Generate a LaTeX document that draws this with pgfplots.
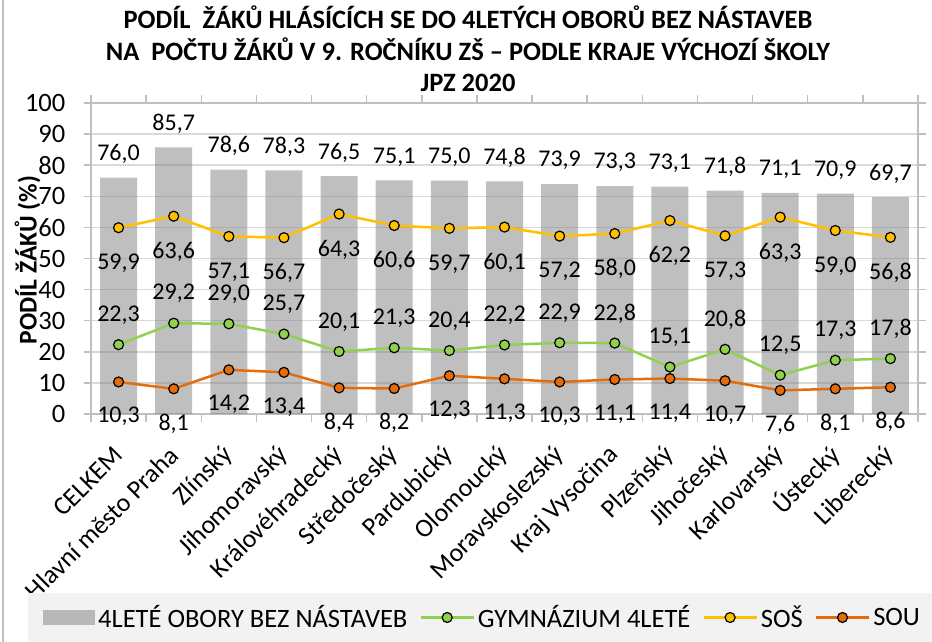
\documentclass[border=0pt]{standalone}
\usepackage{pgfplots}
\pgfplotsset{compat=1.18}
\usepackage{fontspec}
\setmainfont{Carlito}
\definecolor{gymc}{HTML}{92D050}
\definecolor{sosc}{HTML}{FFC000}
\definecolor{souc}{HTML}{E46C0A}
\definecolor{gridc}{HTML}{D9D9D9}
\definecolor{axc}{HTML}{BFBFBF}
\definecolor{legbg}{HTML}{F2F2F2}
\newcommand{\lab}{\pgfmathprintnumber[fixed,fixed zerofill,precision=1,use comma,assume math mode=true]{\pgfplotspointmeta}}
\begin{document}
\begin{tikzpicture}
\path[use as bounding box] (-91pt,-228pt) rectangle (841pt,414pt);
\begin{axis}[
  scale only axis, width=827pt, height=311pt,
  xmin=-0.5, xmax=14.5, ymin=0, ymax=100,
  clip=false,
  xtick={-0.5,0.5,...,14.5}, xticklabels={},
  extra x ticks={0,1,...,14},
  extra x tick labels={CELKEM,Hlavní město Praha,Zlínský,Jihomoravský,Královéhradecký,Středočeský,Pardubický,Olomoucký,Moravskoslezský,Kraj Vysočina,Plzeňský,Jihočeský,Karlovarský,Ústecký,Liberecký},
  extra x tick style={major tick length=0pt},
  ytick={0,10,...,100},
  tick align=outside,
  major tick length=7.5pt,
  tick style={axc, line width=1.5pt},
  axis line style={axc, line width=1.5pt},
  ymajorgrids, grid style={gridc, line width=1.5pt},
  /pgf/number format/assume math mode=true,
  yticklabel style={font=\fontsize{26.5}{30}\selectfont, inner sep=0pt, anchor=east, xshift=-18pt},
  xticklabel style={font=\fontsize{26}{30}\selectfont, inner sep=0pt, anchor=east, yshift=-37pt, rotate=45},
  title={PODÍL\ \ ŽÁKŮ HLÁSÍCÍCH SE DO 4LETÝCH OBORŮ BEZ NÁSTAVEB\\NA\ \ POČTU ŽÁKŮ V 9. ROČNÍKU ZŠ – PODLE KRAJE VÝCHOZÍ ŠKOLY\\JPZ 2020},
  title style={at={(axis description cs:0.4559,1.1543)}, anchor=center, align=center, font=\bfseries\fontsize{26.5}{31.5}\selectfont},
  ylabel={PODÍL ŽÁKŮ (\%)},
  ylabel style={at={(axis description cs:-0.0768,0.4952)}, anchor=center, font=\bfseries\fontsize{25.5}{30}\selectfont},
  legend columns=-1,
  legend cell align=left,
  legend style={at={(axis description cs:-0.07618,-0.65434)}, anchor=west, fill=legbg, draw=none,
    inner xsep=15pt, inner ysep=0pt, minimum height=49pt,
    font=\fontsize{26.5}{30}\selectfont,
    nodes={inner sep=0pt},
    /tikz/every odd column/.append style={column sep=3pt},
    /tikz/every even column/.append style={column sep=12pt}},
]
\addplot[ybar, bar width=37pt, fill=black!50, fill opacity=0.5, draw=none,
  nodes near coords=\lab,
  every node near coord/.append style={text opacity=1, fill opacity=1, font=\fontsize{24}{28}\selectfont, anchor=center, yshift=25pt, text depth=0pt},
  legend image code/.code={\fill[black!50, fill opacity=0.5] (0pt,-7.5pt) rectangle (52pt,7.5pt);}]
coordinates {(0,76.0) (1,85.7) (2,78.6) (3,78.3) (4,76.5) (5,75.1) (6,75.0) (7,74.8) (8,73.9) (9,73.3) (10,73.1) (11,71.8) (12,71.1) (13,70.9) (14,69.7)};
\addlegendentry{4LETÉ OBORY BEZ NÁSTAVEB}
\addplot[gymc, line width=2.5pt, mark=*, mark size=5pt, mark options={fill=gymc, draw=black, line width=1.2pt},
  nodes near coords=\lab,
  every node near coord/.append style={black, font=\fontsize{24}{28}\selectfont, anchor=center, yshift=31pt, text depth=0pt},
  legend image code/.code={\draw[gymc, line width=2.5pt] (0pt,0pt) -- (53pt,0pt); \draw[fill=gymc, draw=black, line width=1.2pt] (26.5pt,0pt) circle (5pt);}]
coordinates {(0,22.3) (1,29.2) (2,29.0) (3,25.7) (4,20.1) (5,21.3) (6,20.4) (7,22.2) (8,22.9) (9,22.8) (10,15.1) (11,20.8) (12,12.5) (13,17.3) (14,17.8)};
\addlegendentry{GYMNÁZIUM 4LETÉ}
\addplot[sosc, line width=2.5pt, mark=*, mark size=5pt, mark options={fill=sosc, draw=black, line width=1.2pt},
  nodes near coords=\lab,
  every node near coord/.append style={black, font=\fontsize{24}{28}\selectfont, anchor=center, yshift=-34pt, text depth=0pt},
  legend image code/.code={\draw[sosc, line width=2.5pt] (0pt,0pt) -- (53pt,0pt); \draw[fill=sosc, draw=black, line width=1.2pt] (26.5pt,0pt) circle (5pt);}]
coordinates {(0,59.9) (1,63.6) (2,57.1) (3,56.7) (4,64.3) (5,60.6) (6,59.7) (7,60.1) (8,57.2) (9,58.0) (10,62.2) (11,57.3) (12,63.3) (13,59.0) (14,56.8)};
\addlegendentry{SOŠ}
\addplot[souc, line width=2.5pt, mark=*, mark size=5pt, mark options={fill=souc, draw=black, line width=1.2pt},
  nodes near coords=\lab,
  every node near coord/.append style={black, font=\fontsize{24}{28}\selectfont, anchor=center, yshift=-33pt, text depth=0pt},
  legend image code/.code={\draw[souc, line width=2.5pt] (0pt,0pt) -- (53pt,0pt); \draw[fill=souc, draw=black, line width=1.2pt] (26.5pt,0pt) circle (5pt);}]
coordinates {(0,10.3) (1,8.1) (2,14.2) (3,13.4) (4,8.4) (5,8.2) (6,12.3) (7,11.3) (8,10.3) (9,11.1) (10,11.4) (11,10.7) (12,7.6) (13,8.1) (14,8.6)};
\addlegendentry{SOU}
\end{axis}
\draw[axc, line width=1.5pt] (-88pt,-228pt) -- (-88pt,414pt);
\end{tikzpicture}
\end{document}
